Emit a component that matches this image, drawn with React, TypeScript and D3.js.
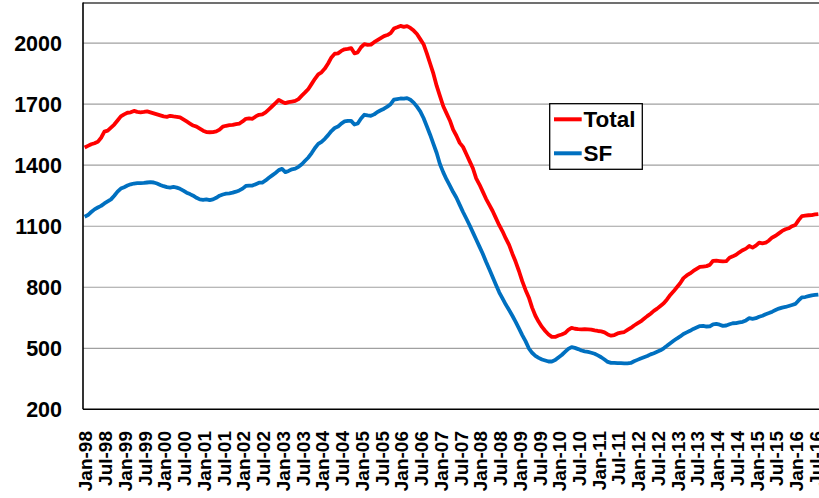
import React from "react";
import * as d3 from "d3";

const START_YEAR = 1998;
const Y_TICKS = [200, 500, 800, 1100, 1400, 1700, 2000];

const TOTAL = [
  1487, 1495, 1503, 1508, 1515, 1535, 1565, 1570, 1585, 1600, 1620, 1640,
  1650, 1658, 1660, 1667, 1662, 1660, 1662, 1665, 1660, 1655, 1650, 1645,
  1640, 1638, 1643, 1640, 1638, 1635, 1625, 1615, 1605, 1595, 1590, 1580,
  1570, 1563, 1562, 1563, 1566, 1575, 1590, 1594, 1597, 1598, 1602, 1605,
  1615, 1628, 1630, 1628, 1640, 1648, 1650, 1660, 1675, 1690, 1705, 1721,
  1712, 1705, 1710, 1713, 1716, 1725, 1742, 1758, 1775, 1800, 1825, 1847,
  1857, 1875, 1900, 1930, 1948, 1950, 1962, 1970, 1972, 1976, 1950, 1955,
  1980, 1995, 1992, 1993, 2005, 2015, 2025, 2035, 2040, 2050, 2072, 2078,
  2085, 2080, 2084, 2075, 2062, 2045, 2020, 1995, 1950, 1900, 1850, 1790,
  1740, 1690, 1655, 1620, 1575, 1545, 1510, 1490, 1455, 1420, 1385, 1335,
  1305, 1270, 1235, 1205, 1175, 1140, 1105, 1075, 1040, 1008, 965, 925,
  880, 830, 787, 750, 700, 660, 630, 605, 585, 568, 556, 556,
  563, 568, 575, 590, 600, 596, 594, 593, 594, 593, 592, 588,
  585, 583, 578, 568, 562, 565, 573, 577, 580, 590, 600, 612,
  622, 632, 645, 658, 670, 684, 695, 708, 721, 740, 762, 780,
  800, 820, 845, 858, 868, 880, 890, 900, 902, 904, 910, 930,
  931, 929, 927, 928, 945, 952, 960, 972, 982, 990, 1003, 995,
  1005, 1019, 1016, 1019, 1030, 1045, 1053, 1065, 1077, 1085, 1090, 1100,
  1106, 1130, 1150, 1152, 1154, 1155, 1158, 1160,
];

const SF = [
  1147, 1155, 1170, 1183, 1192, 1200, 1212, 1222, 1232, 1250, 1270, 1285,
  1292, 1300, 1306, 1310, 1312, 1312, 1313, 1315, 1317, 1315, 1310, 1303,
  1297, 1292, 1290, 1293, 1290, 1284, 1275, 1265, 1258, 1250, 1240, 1232,
  1230, 1232, 1228, 1232, 1240, 1250, 1256, 1260, 1262, 1265, 1270, 1276,
  1285, 1298, 1300, 1300, 1307, 1314, 1315, 1325, 1338, 1350, 1362, 1376,
  1382, 1366, 1372, 1380, 1383, 1392, 1405, 1422, 1438, 1460, 1485, 1505,
  1515, 1530, 1548, 1568, 1583, 1590, 1605, 1615, 1618, 1618, 1600, 1605,
  1630, 1648, 1645, 1643, 1650, 1662, 1670, 1678, 1688, 1700, 1722, 1725,
  1728, 1727, 1730, 1722, 1708, 1688, 1665, 1632, 1592, 1550, 1505, 1460,
  1405, 1365, 1330, 1300, 1268, 1240, 1205, 1170, 1138, 1105, 1070, 1035,
  1000, 965, 925, 888, 850, 812, 775, 745, 715, 688, 660, 630,
  598, 565, 535, 500, 478, 463, 453, 445, 440, 435, 435, 442,
  455, 467, 482, 497, 506, 502, 496, 489, 485, 482, 478, 473,
  465, 456, 445, 433, 428, 428, 427, 427, 426, 426, 428, 436,
  443, 450, 456, 462, 470, 476, 483, 490, 500, 512, 525, 537,
  548, 558, 570, 578, 586, 595, 602, 609, 610, 607, 608, 618,
  620, 616, 610, 612, 618, 623, 624, 627, 630, 637, 648, 645,
  648, 655, 660, 667, 673, 680, 688, 695, 700, 703, 708, 713,
  718, 735, 750, 752, 756, 760, 762, 764,
];

const fmt = d3.timeFormat("%b-%y");
const CATEGORIES = TOTAL.map((_, i) => fmt(new Date(START_YEAR, i, 1)));

const W = 819;
const H = 498;
const M = { left: 83, top: 2.5, right: 820, bottom: 409.3 };
const FONT = "'Liberation Sans', Arial, sans-serif";

export default function App() {
  const n = TOTAL.length;
  const x = d3.scaleLinear().domain([0, n]).range([M.left, M.right]);
  const y = d3.scaleLinear().domain([200, 2200]).range([M.bottom, M.top]);
  const cx = (i: number) => x(i + 0.5);
  const line = d3
    .line<number>()
    .x((_, i) => cx(i))
    .y((d) => y(d));

  const labelIdx = CATEGORIES.map((_, i) => i).filter((i) => i % 6 === 0);

  return (
    <svg
      width={W}
      height={H}
      style={{ position: "absolute", left: 0, top: 0, background: "#fff" }}
    >
      <defs>
        <clipPath id="plot">
          <rect x={M.left} y={0} width={M.right - M.left} height={M.bottom} />
        </clipPath>
      </defs>
      {Y_TICKS.filter((t) => t > 200).map((t) => (
        <line
          key={t}
          x1={M.left}
          x2={M.right}
          y1={y(t)}
          y2={y(t)}
          stroke="#a0a0a0"
          strokeWidth={1.2}
        />
      ))}
      <line x1={M.left} x2={M.right} y1={M.top + 0.5} y2={M.top + 0.5} stroke="#404040" strokeWidth={1.3} />
      <g clipPath="url(#plot)">
        <path d={line(TOTAL) || ""} fill="none" stroke="#ff0000" strokeWidth={3.8} strokeLinejoin="round" />
        <path d={line(SF) || ""} fill="none" stroke="#0070c0" strokeWidth={3.8} strokeLinejoin="round" />
      </g>
      <line x1={M.left} x2={M.left} y1={M.top} y2={M.bottom} stroke="#000" strokeWidth={1.6} />
      <line x1={M.left} x2={M.right} y1={M.bottom} y2={M.bottom} stroke="#000" strokeWidth={1.6} />
      {Y_TICKS.map((t) => (
        <text
          key={t}
          x={62}
          y={y(t)}
          dy="0.36em"
          textAnchor="end"
          fontFamily={FONT}
          fontWeight="bold"
          fontSize={21.5}
          fill="#000"
        >
          {t}
        </text>
      ))}
      {labelIdx.map((i) => (
        <text
          key={i}
          transform={`translate(${cx(i) + 1},${431}) rotate(-90)`}
          dy="0.36em"
          textAnchor="end"
          fontFamily={FONT}
          fontWeight="bold"
          fontSize={19}
          fill="#000"
        >
          {CATEGORIES[i]}
        </text>
      ))}
      <g>
        <rect x={549.7} y={103.7} width={92.6} height={65.6} fill="#fff" stroke="#000" strokeWidth={1.3} />
        <line x1={554} x2={581.7} y1={119.3} y2={119.3} stroke="#ff0000" strokeWidth={4} />
        <line x1={554} x2={581.7} y1={153.3} y2={153.3} stroke="#0070c0" strokeWidth={4} />
        <text x={583.5} y={127.3} fontFamily={FONT} fontWeight="bold" fontSize={22.5} fill="#000">
          Total
        </text>
        <text x={583.5} y={161.3} fontFamily={FONT} fontWeight="bold" fontSize={22.5} fill="#000">
          SF
        </text>
      </g>
    </svg>
  );
}
